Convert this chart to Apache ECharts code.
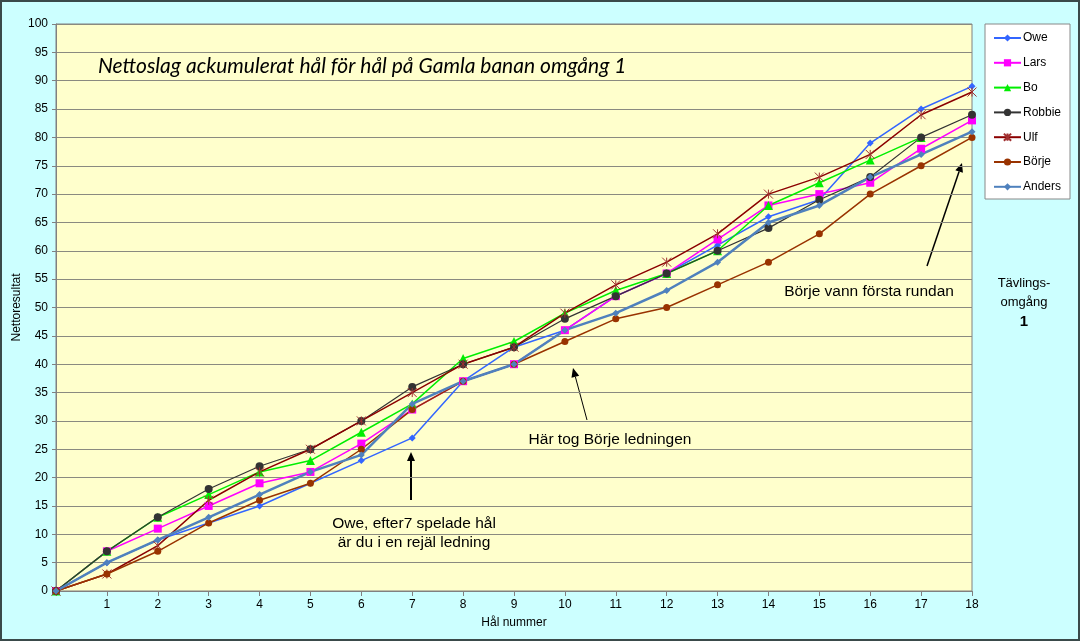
<!DOCTYPE html>
<html lang="sv">
<head>
<meta charset="UTF-8">
<title>Nettoslag Gamla banan</title>
<script src="https://cdn.jsdelivr.net/npm/echarts@6/dist/echarts.min.js"></script>
<style>
body{margin:0;padding:0;background:#CCFFFF;}
#main{width:1080px;height:641px;box-sizing:border-box;border:2px solid #3a4a4a;}
</style>
</head>
<body>
<div id="main"></div>
<script type="text/javascript">
// hål 0..18
var holes = [0,1,2,3,4,5,6,7,8,9,10,11,12,13,14,15,16,17,18];
var owe    = [0,5,9,12,15,19,23,27,37,43,46,52,56,61,66,69,79,85,89];
var lars   = [0,7,11,15,19,21,26,32,37,40,46,52,56,62,68,70,72,78,83];
var bo     = [0,7,13,17,21,23,28,33,41,44,49,53,56,60,68,72,76,80];
var robbie = [0,7,13,18,22,25,30,36,40,43,48,52,56,60,64,69,73,80,84];
var ulf    = [0,3,8,16,21,25,30,35,40,43,49,54,58,63,70,73,77,84,88];
var borje  = [0,3,7,12,16,19,25,32,37,40,44,48,50,54,58,63,70,75,80];
var anders = [0,5,9,13,17,21,24,33,37,40,46,49,53,58,65,68,73,77,81];

function pairs(arr) {
    return arr.map(function (v, i) { return [holes[i], v]; });
}

var starPath = 'path://M0,0L10,10M10,0L0,10M5,0L5,10';

// pil: linje + spets
function arrow(x1, y1, x2, y2, w) {
    var a = Math.atan2(y2 - y1, x2 - x1);
    var len = 9, half = 4;
    var bx = x2 - len * Math.cos(a), by = y2 - len * Math.sin(a);
    var px = -Math.sin(a) * half, py = Math.cos(a) * half;
    return [
        {type: 'line', shape: {x1: x1, y1: y1, x2: bx, y2: by}, style: {stroke: '#000', lineWidth: w}},
        {type: 'polygon', shape: {points: [[x2, y2], [bx + px, by + py], [bx - px, by - py]]}, style: {fill: '#000'}}
    ];
}

var txt = {fontFamily: 'Liberation Sans', fontSize: 15.5, fill: '#000'};
var graphics = [
    {type: 'rect', shape: {x: 983, y: 22, width: 85, height: 175}, style: {fill: '#fff', stroke: '#888', lineWidth: 1}, z: 0},
    {type: 'text', x: 96, y: 64, style: {text: 'Nettoslag ackumulerat hål för hål på Gamla banan omgång 1', fontFamily: 'Lato', fontStyle: 'italic', fontSize: 21, fill: '#000', verticalAlign: 'middle'}, z: 10},
    {type: 'text', x: 867, y: 290, style: Object.assign({text: 'Börje vann första rundan', align: 'center', verticalAlign: 'middle'}, txt), z: 10},
    {type: 'text', x: 608, y: 438, style: Object.assign({text: 'Här tog Börje ledningen', align: 'center', verticalAlign: 'middle'}, txt), z: 10},
    {type: 'text', x: 412, y: 522, style: Object.assign({text: 'Owe, efter7 spelade hål', align: 'center', verticalAlign: 'middle'}, txt), z: 10},
    {type: 'text', x: 412, y: 541, style: Object.assign({text: 'är du i en rejäl ledning', align: 'center', verticalAlign: 'middle'}, txt), z: 10},
    {type: 'text', x: 1022, y: 281, style: {text: 'Tävlings-', fontFamily: 'Liberation Sans', fontSize: 13, fill: '#000', align: 'center', verticalAlign: 'middle'}},
    {type: 'text', x: 1022, y: 300, style: {text: 'omgång', fontFamily: 'Liberation Sans', fontSize: 13, fill: '#000', align: 'center', verticalAlign: 'middle'}},
    {type: 'text', x: 1022, y: 320, style: {text: '1', fontFamily: 'Liberation Sans', fontSize: 15, fontWeight: 'bold', fill: '#000', align: 'center', verticalAlign: 'middle'}}
];
graphics = graphics.concat(
    arrow(925, 264, 960, 161, 1.5),
    arrow(585, 418, 571, 366, 1),
    arrow(409, 498, 409, 450, 2)
);

var myChart = echarts.init(document.getElementById('main'), null, {width: 1076, height: 637});

function ser(name, data, color, symbol, size, width, extra) {
    var s = {
        name: name,
        type: 'line',
        data: pairs(data),
        symbol: symbol,
        symbolSize: size,
        showSymbol: true,
        lineStyle: {color: color, width: width},
        itemStyle: {color: color},
        z: 3
    };
    return Object.assign(s, extra || {});
}

var option = {
    backgroundColor: '#CCFFFF',
    animation: false,
    grid: {
        left: 54, right: 106, top: 22, bottom: 48,
        outerBoundsMode: 'none',
        show: true, backgroundColor: '#FFFFCC', borderColor: '#808080', borderWidth: 1
    },
    legend: {
        orient: 'vertical',
        left: 986, top: 25,
        itemWidth: 27, itemHeight: 9, itemGap: 12.8,
        textStyle: {fontFamily: 'Liberation Sans', fontSize: 12, color: '#000', padding: [0, 0, 0, -3]},
        data: ['Owe', 'Lars', 'Bo', 'Robbie', 'Ulf', 'Börje', 'Anders']
    },
    xAxis: {
        type: 'value', min: 0, max: 18, interval: 1,
        name: 'Hål nummer', nameLocation: 'middle', nameGap: 26,
        nameTextStyle: {fontFamily: 'Liberation Sans', fontSize: 12, color: '#000'},
        axisLine: {lineStyle: {color: '#808080', width: 1}},
        axisTick: {show: true, length: 5, lineStyle: {color: '#808080'}},
        axisLabel: {fontFamily: 'Liberation Sans', fontSize: 12, color: '#000', margin: 8,
            formatter: function (v) { return v === 0 ? '' : v; }},
        splitLine: {show: false}
    },
    yAxis: {
        type: 'value', min: 0, max: 100, interval: 5,
        name: 'Nettoresultat', nameLocation: 'middle', nameGap: 33,
        nameMoveOverlap: false,
        nameTextStyle: {fontFamily: 'Liberation Sans', fontSize: 12, color: '#000'},
        axisLine: {show: true, lineStyle: {color: '#808080', width: 1}},
        axisTick: {show: true, length: 4, lineStyle: {color: '#808080'}},
        axisLabel: {fontFamily: 'Liberation Sans', fontSize: 12, color: '#000', margin: 8},
        splitLine: {show: true, lineStyle: {color: '#8a8a80', width: 1}}
    },
    graphic: graphics,
    series: [
        ser('Owe', owe, '#3366FF', 'diamond', 7, 1.5),
        ser('Lars', lars, '#FF00FF', 'rect', 8, 1.5),
        ser('Bo', bo, '#00EE00', 'triangle', 9, 1.5),
        ser('Robbie', robbie, '#333333', 'circle', 8, 1.2),
        ser('Ulf', ulf, '#8B0000', starPath, 9, 1.5, {itemStyle: {color: '#A03030', borderColor: '#A03030', borderWidth: 1}}),
        ser('Börje', borje, '#993300', 'circle', 7, 1.5),
        ser('Anders', anders, '#4F81BD', 'diamond', 7, 2.5)
    ]
};
myChart.setOption(option);
</script>
</body>
</html>
